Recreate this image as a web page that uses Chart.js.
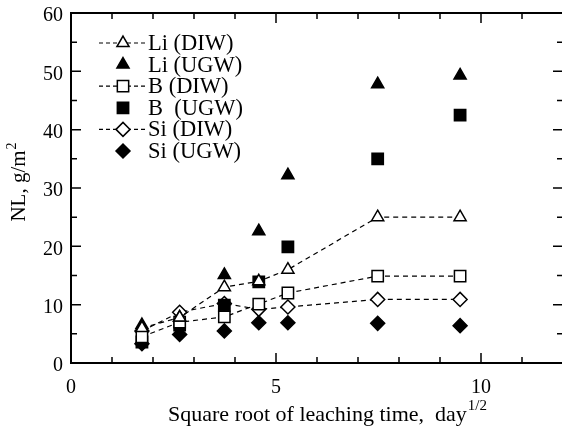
<!DOCTYPE html>
<html>
<head>
<meta charset="utf-8">
<script src="https://cdn.jsdelivr.net/npm/chart.js@4/dist/chart.umd.min.js"></script>
<style>
  html, body { margin:0; padding:0; background:#fff; overflow:hidden; }
  canvas { display:block; }
</style>
</head>
<body>
<canvas id="chart" width="566" height="432"></canvas>
<script>
// DATA

const sqrtDays = [1.73, 2.65, 3.74, 4.58, 5.29, 7.48, 9.49];

const liDIW = [6.0, 7.8, 13.0, 14.0, 16.0, 25.0, 25.0];
const liUGW = [6.5, 7.8, 15.1, 22.6, 32.2, 47.8, 49.3];
const bDIW  = [4.5, 7.0, 7.9, 10.1, 12.0, 14.9, 14.9];
const bUGW  = [3.6, 6.5, 9.9, 13.9, 19.9, 35.0, 42.5];
const siDIW = [5.5, 8.7, 10.2, 9.2, 9.6, 10.9, 10.9];
const siUGW = [3.3, 4.9, 5.5, 6.9, 6.9, 6.8, 6.4];

const seriesNames = ['Li (DIW)', 'Li (UGW)', 'B (DIW)', 'B  (UGW)', 'Si (DIW)', 'Si (UGW)'];

const xTicks = [0, 5, 10];
const yTicks = [0, 10, 20, 30, 40, 50, 60];

const SERIF = '"Liberation Serif", "Times New Roman", serif';

function pts(ys){
  return sqrtDays.map((x,i) => ({x:x, y:ys[i]}));
}

function series(label, ys, style, radius, open){
  return {
    label: label,
    data: pts(ys),
    showLine: open,
    borderColor: '#000',
    borderWidth: 1.2,
    borderDash: [5,4],
    pointStyle: style,
    pointRadius: radius,
    pointHoverRadius: radius,
    pointBackgroundColor: open ? '#fff' : '#000',
    pointBorderColor: '#000',
    pointBorderWidth: 1.5
  };
}

const datasets = [
  series(seriesNames[0], liDIW, 'triangle', 7, true),
  series(seriesNames[1], liUGW, 'triangle', 7, false),
  series(seriesNames[2], bDIW, 'rect', 8, true),
  series(seriesNames[3], bUGW, 'rect', 8, false),
  series(seriesNames[4], siDIW, 'rectRot', 7, true),
  series(seriesNames[5], siUGW, 'rectRot', 7, false)
];

// marker for the legend (same shapes as chart.js draws)
function drawMarker(ctx, ds, x, y){
  const r = ds.pointRadius;
  ctx.save();
  ctx.setLineDash([]);
  ctx.lineWidth = ds.pointBorderWidth;
  ctx.strokeStyle = '#000';
  ctx.fillStyle = ds.pointBackgroundColor;
  ctx.beginPath();
  if (ds.pointStyle === 'triangle'){
    ctx.moveTo(x, y - r);
    ctx.lineTo(x + r*Math.sin(2*Math.PI/3), y - r*Math.cos(2*Math.PI/3));
    ctx.lineTo(x + r*Math.sin(4*Math.PI/3), y - r*Math.cos(4*Math.PI/3));
    ctx.closePath();
  } else if (ds.pointStyle === 'rect'){
    const s = r*Math.SQRT1_2;
    ctx.rect(x - s, y - s, 2*s, 2*s);
  } else {
    ctx.moveTo(x - r, y);
    ctx.lineTo(x, y - r);
    ctx.lineTo(x + r, y);
    ctx.lineTo(x, y + r);
    ctx.closePath();
  }
  ctx.fill();
  ctx.stroke();
  ctx.restore();
}

const framePlugin = {
  id:'frame',
  afterDraw(chart){
    const ctx = chart.ctx;
    const a = chart.chartArea;
    const xs = chart.scales.x, ys = chart.scales.y;
    ctx.save();

    // box
    ctx.strokeStyle = '#000';
    ctx.lineWidth = 2;
    ctx.strokeRect(a.left, a.top, a.right - a.left, a.bottom - a.top);

    // inward ticks
    ctx.lineWidth = 1.5;
    ctx.beginPath();
    for (let v = xs.min; v <= xs.max; v++){
      const px = xs.getPixelForValue(v);
      const len = v % 5 === 0 ? 10 : 6;
      ctx.moveTo(px, a.bottom); ctx.lineTo(px, a.bottom - len);
      ctx.moveTo(px, a.top); ctx.lineTo(px, a.top + len);
    }
    for (let v = ys.min; v <= ys.max; v += 5){
      const py = ys.getPixelForValue(v);
      const len = v % 10 === 0 ? 10 : 6;
      ctx.moveTo(a.left, py); ctx.lineTo(a.left + len, py);
      ctx.moveTo(a.right, py); ctx.lineTo(a.right - len, py);
    }
    ctx.stroke();

    // legend
    ctx.fillStyle = '#000';
    ctx.font = '22.5px ' + SERIF;
    ctx.textBaseline = 'middle';
    chart.data.datasets.forEach((ds, i) => {
      const y = 43 + i*21.6;
      if (ds.showLine){
        ctx.save();
        ctx.lineWidth = 1.2;
        ctx.setLineDash([4,3]);
        ctx.beginPath();
        ctx.moveTo(99, y); ctx.lineTo(145, y);
        ctx.stroke();
        ctx.restore();
      }
      drawMarker(ctx, ds, 123, y);
      ctx.fillText(ds.label, 148, y + 1);
    });

    // x title with superscript
    const main = 'Square root of leaching time,  day';
    const sup = '1/2';
    ctx.font = '22px ' + SERIF;
    const wMain = ctx.measureText(main).width;
    ctx.font = '15px ' + SERIF;
    const wSup = ctx.measureText(sup).width;
    const x0 = 327 - (wMain + wSup)/2;
    ctx.textBaseline = 'alphabetic';
    ctx.font = '22px ' + SERIF;
    ctx.fillText(main, x0, 421);
    ctx.font = '15px ' + SERIF;
    ctx.fillText(sup, x0 + wMain + 1, 410);

    // y title, rotated
    ctx.translate(25, 182);
    ctx.rotate(-Math.PI/2);
    const yMain = 'NL, g/m';
    ctx.font = '21px ' + SERIF;
    const wy = ctx.measureText(yMain).width;
    ctx.fillText(yMain, -wy/2 - 4, 0);
    ctx.font = '14px ' + SERIF;
    ctx.fillText('2', wy/2 - 3, -9);

    ctx.restore();
  }
};

const ctx = document.getElementById('chart');
new Chart(ctx, {
  type:'scatter',
  data:{ datasets: datasets },
  options:{
    responsive:false,
    animation:false,
    layout:{ autoPadding:false, padding:{ top:13, right:3, left:0, bottom:0 } },
    plugins:{
      legend:{ display:false },
      tooltip:{ enabled:false }
    },
    scales:{
      x:{
        type:'linear',
        min:0, max:12,
        grid:{ display:false, drawTicks:false },
        border:{ display:false },
        afterBuildTicks: s => { s.ticks = xTicks.map(v => ({value:v})); },
        afterFit: s => { s.height = 69; s.paddingLeft = 0; s.paddingRight = 0; },
        ticks:{ color:'#000', padding:13, font:{ family:SERIF, size:20 } }
      },
      y:{
        min:0, max:60,
        grid:{ display:false, drawTicks:false },
        border:{ display:false },
        afterBuildTicks: s => { s.ticks = yTicks.map(v => ({value:v})); },
        afterFit: s => { s.width = 71; s.paddingTop = 0; s.paddingBottom = 0; },
        ticks:{ color:'#000', padding:8, labelOffset:3, font:{ family:SERIF, size:20 } }
      }
    }
  },
  plugins:[framePlugin]
});
</script>
</body>
</html>
